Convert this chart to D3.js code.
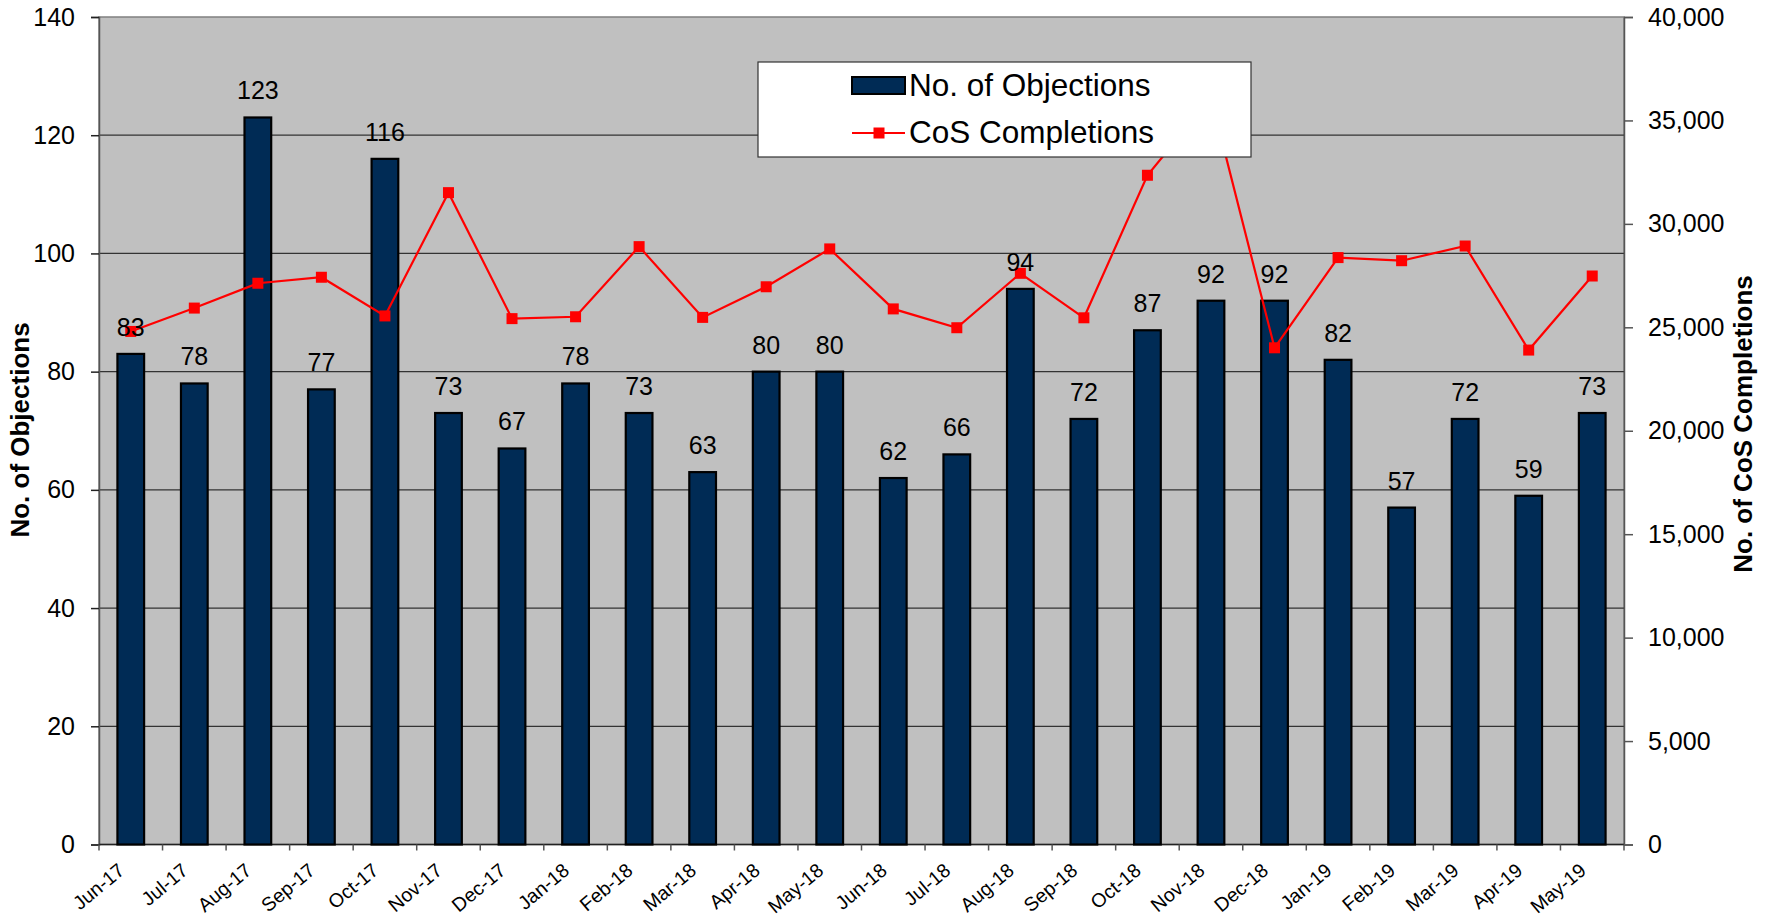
<!DOCTYPE html>
<html>
<head>
<meta charset="utf-8">
<script src="https://cdn.jsdelivr.net/npm/d3@7"></script>
<style>
  html, body { margin: 0; padding: 0; background: #ffffff; }
  svg { display: block; font-family: "Liberation Sans", Arial, sans-serif; }
</style>
</head>
<body>
<svg id="chart" width="1771" height="918"></svg>
<script>
const categories = ["Jun-17","Jul-17","Aug-17","Sep-17","Oct-17","Nov-17","Dec-17","Jan-18","Feb-18","Mar-18","Apr-18","May-18","Jun-18","Jul-18","Aug-18","Sep-18","Oct-18","Nov-18","Dec-18","Jan-19","Feb-19","Mar-19","Apr-19","May-19"];
const objections = [83,78,123,77,116,73,67,78,73,63,80,80,62,66,94,72,87,92,92,82,57,72,59,73];
const cosCompletions = [24800,25930,27130,27420,25550,31510,25420,25510,28900,25480,26960,28790,25890,24980,27610,25460,32350,36100,24010,28370,28220,28930,23900,27480];
const leftTicks = [0,20,40,60,80,100,120,140];
const rightTicks = [0,5000,10000,15000,20000,25000,30000,35000,40000];
const seriesNames = ["No. of Objections", "CoS Completions"];
const axisTitles = ["No. of Objections", "No. of CoS Completions"];

const svg = d3.select("#chart");
const plot = {left: 99, right: 1624, top: 17, bottom: 844.5};

const x = d3.scaleBand().domain(categories).range([plot.left, plot.right]).padding(0);
const yL = d3.scaleLinear().domain([0, 140]).range([plot.bottom, plot.top]);
const yR = d3.scaleLinear().domain([0, 40000]).range([plot.bottom, plot.top]);

// plot background
svg.append("rect")
  .attr("x", plot.left).attr("y", plot.top)
  .attr("width", plot.right - plot.left).attr("height", plot.bottom - plot.top)
  .attr("fill", "#c0c0c0").attr("stroke", "#808080").attr("stroke-width", 1.5);

// gridlines
svg.append("g").selectAll("line").data(leftTicks.filter(d => d > 0 && d < 140)).join("line")
  .attr("x1", plot.left).attr("x2", plot.right)
  .attr("y1", d => yL(d)).attr("y2", d => yL(d))
  .attr("stroke", "#333333").attr("stroke-width", 1.2);

// left axis
const gL = svg.append("g").attr("transform", `translate(${plot.left},0)`)
  .call(d3.axisLeft(yL).tickValues(leftTicks).tickSize(8).tickPadding(16).tickFormat(d3.format("d")));
gL.select(".domain").attr("stroke", "#555").attr("stroke-width", 1.5);
gL.selectAll(".tick line").attr("stroke", "#222").attr("stroke-width", 1.5);
gL.selectAll(".tick text").attr("font-size", 25).attr("fill", "#000").attr("font-family", "Liberation Sans, Arial, sans-serif");

// right axis
const gR = svg.append("g").attr("transform", `translate(${plot.right},0)`)
  .call(d3.axisRight(yR).tickValues(rightTicks).tickSize(9).tickPadding(15).tickFormat(d3.format(",")));
gR.select(".domain").attr("stroke", "#555").attr("stroke-width", 1.5);
gR.selectAll(".tick line").attr("stroke", "#555").attr("stroke-width", 1.5);
gR.selectAll(".tick text").attr("font-size", 25).attr("fill", "#000").attr("font-family", "Liberation Sans, Arial, sans-serif");

// bottom axis line + ticks at band boundaries
svg.append("line").attr("x1", plot.left).attr("x2", plot.right)
  .attr("y1", plot.bottom).attr("y2", plot.bottom).attr("stroke", "#222").attr("stroke-width", 1.5);
const bounds = categories.map(c => x(c)).concat([plot.right]);
svg.append("g").selectAll("line").data(bounds).join("line")
  .attr("x1", d => d).attr("x2", d => d)
  .attr("y1", plot.bottom).attr("y2", plot.bottom + 6)
  .attr("stroke", "#555").attr("stroke-width", 1.5);

// x labels
svg.append("g").selectAll("text").data(categories).join("text")
  .attr("transform", d => `translate(${x(d) + x.bandwidth()/2 - 5},${plot.bottom + 28}) rotate(-40)`)
  .attr("text-anchor", "end")
  .attr("font-size", 19.5)
  .attr("fill", "#000")
  .text(d => d);

// bars
const barW = x.bandwidth() * 0.42;
svg.append("g").selectAll("rect").data(objections).join("rect")
  .attr("x", (d, i) => x(categories[i]) + x.bandwidth()/2 - barW/2)
  .attr("y", d => yL(d))
  .attr("width", barW)
  .attr("height", d => yL(0) - yL(d))
  .attr("fill", "#002b55")
  .attr("stroke", "#000").attr("stroke-width", 2.2);

// line
const line = d3.line()
  .x((d, i) => x(categories[i]) + x.bandwidth()/2)
  .y(d => yR(d));
svg.append("path").datum(cosCompletions)
  .attr("d", line).attr("fill", "none").attr("stroke", "#ff0000").attr("stroke-width", 2.2);
svg.append("g").selectAll("rect").data(cosCompletions).join("rect")
  .attr("x", (d, i) => x(categories[i]) + x.bandwidth()/2 - 5.5)
  .attr("y", d => yR(d) - 5.5)
  .attr("width", 11).attr("height", 11)
  .attr("fill", "#ff0000");

// data labels
svg.append("g").selectAll("text").data(objections).join("text")
  .attr("x", (d, i) => x(categories[i]) + x.bandwidth()/2)
  .attr("y", d => yL(d) - 18)
  .attr("text-anchor", "middle")
  .attr("font-size", 25)
  .attr("fill", "#000")
  .text(d => d);

// axis titles
svg.append("text")
  .attr("transform", `translate(29,430) rotate(-90)`)
  .attr("text-anchor", "middle")
  .attr("font-size", 26).attr("font-weight", "bold")
  .text(axisTitles[0]);
svg.append("text")
  .attr("transform", `translate(1752,424) rotate(-90)`)
  .attr("text-anchor", "middle")
  .attr("font-size", 26).attr("font-weight", "bold")
  .text(axisTitles[1]);

// legend
const lg = svg.append("g");
lg.append("rect").attr("x", 758).attr("y", 62).attr("width", 493).attr("height", 95)
  .attr("fill", "#fff").attr("stroke", "#333").attr("stroke-width", 1.2);
lg.append("rect").attr("x", 852).attr("y", 77).attr("width", 53).attr("height", 17)
  .attr("fill", "#002b55").attr("stroke", "#000").attr("stroke-width", 2);
lg.append("text").attr("x", 909).attr("y", 96).attr("font-size", 31.5).text(seriesNames[0]);
lg.append("line").attr("x1", 852).attr("x2", 905).attr("y1", 133).attr("y2", 133)
  .attr("stroke", "#ff0000").attr("stroke-width", 2.2);
lg.append("rect").attr("x", 873.5).attr("y", 127.5).attr("width", 11).attr("height", 11).attr("fill", "#ff0000");
lg.append("text").attr("x", 909).attr("y", 143).attr("font-size", 31.5).text(seriesNames[1]);
</script>
</body>
</html>
